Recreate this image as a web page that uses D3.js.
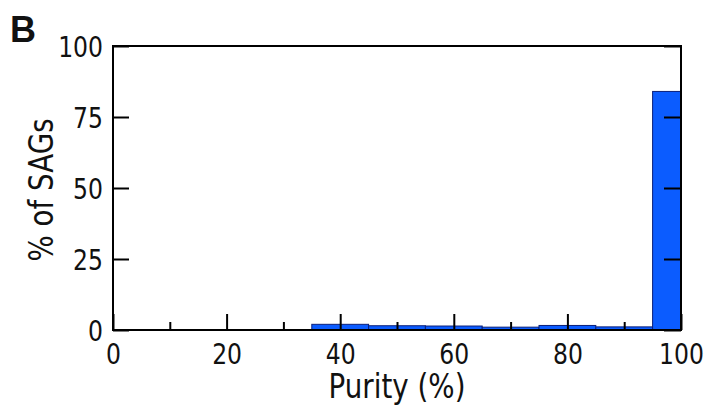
<!DOCTYPE html>
<html>
<head>
<meta charset="utf-8">
<script src="https://cdn.jsdelivr.net/npm/d3@7"></script>
<style>
  body { margin: 0; background: #fff; }
  svg text { font-family: "DejaVu Sans", sans-serif; fill: #111; }
</style>
</head>
<body>
<div id="chart"></div>
<script>
const WIDTH = 706;
const HEIGHT = 415;
const MARGIN = { top: 46, right: 25, bottom: 85, left: 113 };
const NARROW = 0.84; // horizontal squeeze to mimic a condensed face

// histogram bins of purity (%), share of SAGs in each
const binStart = [35, 45, 55, 65, 75, 85, 95];
const binEnd = [45, 55, 65, 75, 85, 95, 100];
const sagShare = [2.0, 1.5, 1.4, 1.0, 1.6, 1.1, 84];

const xTicks = [0, 20, 40, 60, 80, 100];
const xMinorTicks = [10, 30, 50, 70, 90];
const yTicks = [0, 25, 50, 75, 100];

const bins = binStart.map((s, i) => ({ x0: s, x1: binEnd[i], value: sagShare[i] }));

const svg = d3.select("#chart").append("svg")
  .attr("width", WIDTH)
  .attr("height", HEIGHT);

const x = d3.scaleLinear().domain([0, 100]).range([MARGIN.left, WIDTH - MARGIN.right]);
const y = d3.scaleLinear().domain([0, 100]).range([HEIGHT - MARGIN.bottom, MARGIN.top]);

// bars
svg.append("g")
  .selectAll("rect")
  .data(bins)
  .join("rect")
  .attr("x", (d) => x(d.x0))
  .attr("y", (d) => y(d.value))
  .attr("width", (d) => x(d.x1) - x(d.x0))
  .attr("height", (d) => y(0) - y(d.value))
  .attr("fill", "#0b5cff")
  .attr("stroke", "#0a1f7a")
  .attr("stroke-width", 1);

const styleAxis = (g) => {
  g.selectAll("line").attr("stroke", "#000").attr("stroke-width", 2);
  g.selectAll("path").remove();
  g.selectAll("text").attr("font-size", 28).attr("fill", "#111");
};

// bottom axis, ticks pointing inward
svg.append("g")
  .attr("transform", `translate(0,${y(0)})`)
  .call(d3.axisBottom(x).tickValues(xTicks).tickSizeInner(-16).tickSizeOuter(0))
  .call(styleAxis)
  .call((g) => g.selectAll("text")
    .attr("x", 0)
    .attr("y", 34)
    .attr("dy", 0)
    .attr("transform", `scale(${NARROW},1)`));

svg.append("g")
  .attr("transform", `translate(0,${y(0)})`)
  .call(d3.axisBottom(x).tickValues(xMinorTicks).tickSizeInner(-8).tickSizeOuter(0).tickFormat(""))
  .call(styleAxis);

// left axis
svg.append("g")
  .attr("transform", `translate(${x(0)},0)`)
  .call(d3.axisLeft(y).tickValues(yTicks).tickSizeInner(-16).tickSizeOuter(0))
  .call(styleAxis)
  .call((g) => g.selectAll("text")
    .attr("x", -10 / NARROW)
    .attr("dy", "0.36em")
    .attr("transform", `scale(${NARROW},1)`));

// right axis ticks, drawn over the bars
svg.append("g")
  .attr("transform", `translate(${x(100)},0)`)
  .call(d3.axisRight(y).tickValues(yTicks).tickSizeInner(-17).tickSizeOuter(0).tickFormat(""))
  .call(styleAxis);

// frame
svg.append("rect")
  .attr("x", x(0))
  .attr("y", y(100))
  .attr("width", x(100) - x(0))
  .attr("height", y(0) - y(100))
  .attr("fill", "none")
  .attr("stroke", "#000")
  .attr("stroke-width", 2);

// axis titles
svg.append("text")
  .attr("transform", `translate(${(x(0) + x(100)) / 2},398) scale(${NARROW},1)`)
  .attr("text-anchor", "middle")
  .attr("font-size", 33)
  .text("Purity (%)");

svg.append("text")
  .attr("transform", `translate(53,190) rotate(-90) scale(${NARROW},1)`)
  .attr("text-anchor", "middle")
  .attr("font-size", 33)
  .text("% of SAGs");

// panel letter
svg.append("text")
  .attr("x", 10)
  .attr("y", 42)
  .attr("font-size", 36)
  .attr("font-weight", "bold")
  .style("font-family", "Liberation Sans, Arial, sans-serif")
  .text("B");
</script>
</body>
</html>
